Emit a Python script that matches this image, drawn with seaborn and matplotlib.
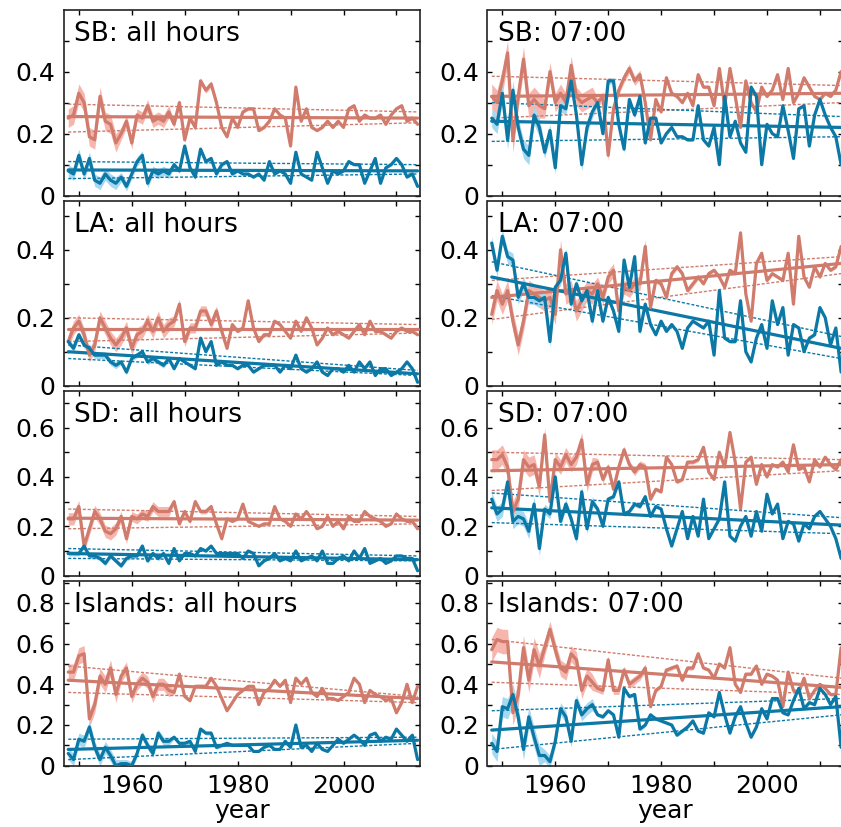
import numpy as np
import pandas as pd
import matplotlib
matplotlib.use("Agg")
import matplotlib.pyplot as plt
import seaborn as sns
from matplotlib.ticker import FixedLocator, NullFormatter

# years of the record
years = np.arange(1948, 2015)

# ---- SB ----
sb_all_red = [0.25, 0.26, 0.33, 0.30, 0.19, 0.18, 0.32, 0.24, 0.23, 0.17, 0.20, 0.24,
              0.17, 0.26, 0.25, 0.29, 0.24, 0.25, 0.24, 0.27, 0.23, 0.30,
              0.18, 0.25, 0.22, 0.37, 0.34, 0.36, 0.30, 0.22, 0.19, 0.25,
              0.22, 0.27, 0.28, 0.28, 0.21, 0.22, 0.24, 0.28, 0.26, 0.25,
              0.16, 0.35, 0.24, 0.28, 0.22, 0.21, 0.22, 0.24, 0.22, 0.24,
              0.22, 0.28, 0.29, 0.24, 0.26, 0.25, 0.25, 0.26, 0.23, 0.26,
              0.28, 0.29, 0.24, 0.25, 0.23]
sb_all_blue = [0.08, 0.07, 0.13, 0.07, 0.12, 0.05, 0.04, 0.07, 0.05, 0.04, 0.06, 0.03,
               0.07, 0.11, 0.13, 0.04, 0.08, 0.07, 0.08, 0.07, 0.10, 0.08,
               0.16, 0.09, 0.06, 0.15, 0.11, 0.12, 0.07, 0.10, 0.11, 0.07,
               0.08, 0.07, 0.07, 0.06, 0.07, 0.05, 0.11, 0.07, 0.08, 0.07,
               0.04, 0.14, 0.07, 0.06, 0.05, 0.14, 0.09, 0.04, 0.08, 0.07,
               0.08, 0.11, 0.10, 0.10, 0.04, 0.08, 0.12, 0.04, 0.09, 0.10,
               0.12, 0.10, 0.06, 0.07, 0.03]
sb_07_red = [0.32, 0.30, 0.37, 0.46, 0.18, 0.32, 0.44, 0.29, 0.31, 0.29, 0.28, 0.40,
             0.30, 0.33, 0.30, 0.42, 0.32, 0.30, 0.31, 0.32, 0.30, 0.32,
             0.13, 0.28, 0.34, 0.38, 0.41, 0.37, 0.39, 0.30, 0.18, 0.31,
             0.27, 0.38, 0.33, 0.32, 0.30, 0.33, 0.29, 0.39, 0.35, 0.35,
             0.29, 0.41, 0.29, 0.41, 0.32, 0.22, 0.37, 0.30, 0.27, 0.35,
             0.32, 0.34, 0.39, 0.31, 0.41, 0.30, 0.33, 0.38, 0.35, 0.32,
             0.31, 0.33, 0.32, 0.34, 0.40]
sb_07_blue = [0.25, 0.23, 0.33, 0.18, 0.34, 0.22, 0.15, 0.13, 0.26, 0.22, 0.14, 0.21,
              0.09, 0.29, 0.28, 0.37, 0.26, 0.10, 0.22, 0.27, 0.30, 0.20,
              0.37, 0.37, 0.23, 0.15, 0.31, 0.26, 0.32, 0.17, 0.25, 0.25,
              0.17, 0.20, 0.22, 0.19, 0.19, 0.18, 0.18, 0.29, 0.18, 0.16,
              0.22, 0.10, 0.32, 0.19, 0.24, 0.17, 0.14, 0.35, 0.32, 0.10,
              0.23, 0.20, 0.19, 0.29, 0.21, 0.12, 0.28, 0.29, 0.16, 0.26,
              0.31, 0.26, 0.22, 0.19, 0.10]

# ---- LA ----
la_all_red = [0.13, 0.17, 0.19, 0.15, 0.09, 0.12, 0.20, 0.17, 0.14, 0.12, 0.14, 0.17,
              0.11, 0.15, 0.16, 0.19, 0.16, 0.20, 0.16, 0.18, 0.19, 0.24,
              0.13, 0.17, 0.17, 0.22, 0.22, 0.18, 0.22, 0.16, 0.11, 0.18,
              0.16, 0.17, 0.25, 0.17, 0.13, 0.15, 0.15, 0.19, 0.18, 0.16,
              0.14, 0.19, 0.16, 0.20, 0.17, 0.12, 0.14, 0.17, 0.15, 0.16,
              0.15, 0.14, 0.16, 0.18, 0.15, 0.19, 0.16, 0.16, 0.15, 0.14,
              0.16, 0.17, 0.16, 0.16, 0.15]
la_all_blue = [0.13, 0.11, 0.15, 0.12, 0.11, 0.09, 0.09, 0.09, 0.07, 0.06, 0.07, 0.04,
               0.08, 0.09, 0.10, 0.07, 0.08, 0.07, 0.06, 0.08, 0.05, 0.08,
               0.07, 0.06, 0.05, 0.14, 0.10, 0.13, 0.06, 0.07, 0.06, 0.06,
               0.05, 0.06, 0.06, 0.04, 0.05, 0.06, 0.06, 0.06, 0.04, 0.06,
               0.05, 0.09, 0.05, 0.04, 0.05, 0.07, 0.04, 0.03, 0.05, 0.05,
               0.04, 0.06, 0.04, 0.07, 0.05, 0.07, 0.03, 0.05, 0.05, 0.03,
               0.04, 0.05, 0.07, 0.05, 0.01]
la_07_red = [0.21, 0.28, 0.24, 0.28, 0.19, 0.12, 0.19, 0.28, 0.27, 0.26, 0.25, 0.26,
             0.21, 0.40, 0.27, 0.28, 0.22, 0.25, 0.28, 0.27, 0.30, 0.26,
             0.32, 0.34, 0.22, 0.29, 0.28, 0.30, 0.30, 0.41, 0.23, 0.31,
             0.30, 0.26, 0.33, 0.35, 0.33, 0.28, 0.30, 0.32, 0.30, 0.33,
             0.34, 0.32, 0.29, 0.34, 0.33, 0.45, 0.27, 0.19, 0.36, 0.39,
             0.31, 0.33, 0.32, 0.31, 0.39, 0.24, 0.44, 0.32, 0.29, 0.35,
             0.32, 0.36, 0.34, 0.35, 0.41]
la_07_blue = [0.42, 0.34, 0.44, 0.38, 0.37, 0.26, 0.30, 0.26, 0.26, 0.25, 0.26, 0.13,
              0.29, 0.31, 0.39, 0.24, 0.30, 0.25, 0.28, 0.19, 0.28, 0.19,
              0.26, 0.22, 0.16, 0.37, 0.29, 0.38, 0.16, 0.24, 0.18, 0.15,
              0.19, 0.16, 0.18, 0.16, 0.11, 0.17, 0.19, 0.18, 0.17, 0.19,
              0.09, 0.28, 0.14, 0.13, 0.13, 0.25, 0.10, 0.07, 0.14, 0.18,
              0.11, 0.25, 0.18, 0.23, 0.09, 0.18, 0.17, 0.10, 0.14, 0.15,
              0.23, 0.20, 0.12, 0.17, 0.04]

# ---- SD ----
sd_all_red = [0.23, 0.23, 0.28, 0.12, 0.19, 0.26, 0.23, 0.18, 0.17, 0.19, 0.24, 0.15,
              0.24, 0.23, 0.25, 0.24, 0.28, 0.26, 0.26, 0.26, 0.30, 0.21,
              0.26, 0.22, 0.30, 0.26, 0.26, 0.28, 0.21, 0.15, 0.23, 0.22,
              0.23, 0.29, 0.22, 0.21, 0.20, 0.21, 0.21, 0.28, 0.23, 0.22,
              0.20, 0.25, 0.23, 0.26, 0.23, 0.19, 0.20, 0.24, 0.20, 0.22,
              0.19, 0.24, 0.22, 0.22, 0.26, 0.24, 0.23, 0.22, 0.20, 0.21,
              0.25, 0.23, 0.22, 0.22, 0.19]
sd_all_blue = [0.09, 0.09, 0.09, 0.12, 0.08, 0.08, 0.07, 0.05, 0.08, 0.06, 0.04, 0.07,
               0.08, 0.08, 0.12, 0.06, 0.09, 0.07, 0.09, 0.05, 0.11, 0.06,
               0.09, 0.09, 0.08, 0.11, 0.10, 0.12, 0.09, 0.09, 0.09, 0.09,
               0.09, 0.07, 0.10, 0.09, 0.04, 0.06, 0.07, 0.09, 0.06, 0.07,
               0.06, 0.10, 0.06, 0.07, 0.08, 0.06, 0.10, 0.05, 0.05, 0.07,
               0.08, 0.06, 0.10, 0.07, 0.11, 0.05, 0.06, 0.07, 0.05, 0.06,
               0.08, 0.08, 0.07, 0.07, 0.02]
sd_07_red = [0.47, 0.47, 0.49, 0.44, 0.26, 0.31, 0.47, 0.44, 0.45, 0.36, 0.57, 0.30,
             0.47, 0.44, 0.49, 0.45, 0.48, 0.55, 0.37, 0.45, 0.46, 0.39,
             0.44, 0.35, 0.44, 0.51, 0.45, 0.42, 0.45, 0.44, 0.31, 0.35,
             0.34, 0.48, 0.45, 0.38, 0.39, 0.46, 0.46, 0.47, 0.52, 0.42,
             0.39, 0.50, 0.44, 0.58, 0.46, 0.27, 0.46, 0.48, 0.37, 0.45,
             0.40, 0.45, 0.44, 0.46, 0.42, 0.53, 0.43, 0.44, 0.38, 0.47,
             0.44, 0.48, 0.45, 0.43, 0.47]
sd_07_blue = [0.31, 0.25, 0.27, 0.38, 0.22, 0.24, 0.23, 0.18, 0.29, 0.11, 0.27, 0.25,
              0.40, 0.22, 0.29, 0.23, 0.15, 0.34, 0.19, 0.30, 0.27, 0.20,
              0.31, 0.32, 0.38, 0.25, 0.26, 0.29, 0.28, 0.32, 0.24, 0.28,
              0.27, 0.19, 0.12, 0.19, 0.26, 0.15, 0.24, 0.16, 0.31, 0.15,
              0.19, 0.23, 0.38, 0.16, 0.14, 0.20, 0.24, 0.16, 0.26, 0.18,
              0.33, 0.25, 0.29, 0.15, 0.22, 0.21, 0.14, 0.21, 0.19, 0.24,
              0.26, 0.23, 0.20, 0.15, 0.07]

# ---- Islands ----
isl_all_red = [0.46, 0.46, 0.54, 0.55, 0.23, 0.30, 0.44, 0.40, 0.48, 0.35, 0.44, 0.48,
               0.34, 0.40, 0.43, 0.41, 0.34, 0.40, 0.40, 0.37, 0.36, 0.45,
               0.34, 0.32, 0.39, 0.39, 0.39, 0.43, 0.39, 0.33, 0.27, 0.31,
               0.35, 0.37, 0.39, 0.39, 0.30, 0.36, 0.38, 0.42, 0.39, 0.42,
               0.31, 0.43, 0.40, 0.43, 0.36, 0.34, 0.38, 0.33, 0.33, 0.32,
               0.34, 0.36, 0.43, 0.40, 0.31, 0.37, 0.35, 0.34, 0.32, 0.33,
               0.26, 0.31, 0.40, 0.31, 0.39]
isl_all_blue = [0.06, 0.03, 0.13, 0.12, 0.19, 0.09, 0.03, 0.09, 0.05, 0.00, 0.01, 0.01,
                0.00, 0.06, 0.15, 0.10, 0.06, 0.16, 0.12, 0.12, 0.14, 0.11,
                0.11, 0.12, 0.07, 0.18, 0.16, 0.16, 0.09, 0.10, 0.11, 0.10,
                0.10, 0.10, 0.10, 0.07, 0.07, 0.09, 0.10, 0.08, 0.08, 0.12,
                0.09, 0.20, 0.09, 0.10, 0.07, 0.11, 0.08, 0.07, 0.10, 0.13,
                0.11, 0.13, 0.15, 0.13, 0.10, 0.15, 0.16, 0.12, 0.14, 0.13,
                0.18, 0.15, 0.12, 0.15, 0.03]
isl_07_red = [0.57, 0.62, 0.61, 0.61, 0.26, 0.35, 0.58, 0.42, 0.57, 0.49, 0.58, 0.67,
              0.57, 0.48, 0.46, 0.55, 0.52, 0.37, 0.44, 0.41, 0.38, 0.37,
              0.52, 0.37, 0.37, 0.47, 0.40, 0.42, 0.44, 0.48, 0.29, 0.37,
              0.39, 0.47, 0.48, 0.49, 0.42, 0.48, 0.48, 0.55, 0.48, 0.47,
              0.43, 0.50, 0.48, 0.58, 0.40, 0.36, 0.45, 0.45, 0.49, 0.40,
              0.45, 0.44, 0.42, 0.29, 0.46, 0.37, 0.36, 0.43, 0.33, 0.37,
              0.40, 0.38, 0.35, 0.35, 0.58]
isl_07_blue = [0.11, 0.07, 0.29, 0.28, 0.35, 0.24, 0.08, 0.24, 0.14, 0.05, 0.05, 0.02,
               0.12, 0.28, 0.24, 0.12, 0.32, 0.25, 0.28, 0.30, 0.25, 0.24,
               0.27, 0.25, 0.14, 0.38, 0.34, 0.35, 0.18, 0.20, 0.25, 0.23,
               0.22, 0.21, 0.20, 0.15, 0.17, 0.19, 0.22, 0.17, 0.16, 0.26,
               0.24, 0.36, 0.25, 0.16, 0.24, 0.29, 0.21, 0.14, 0.19, 0.28,
               0.23, 0.33, 0.33, 0.26, 0.25, 0.32, 0.38, 0.28, 0.31, 0.30,
               0.38, 0.35, 0.30, 0.34, 0.09]

# linear trend (first year, last year) and the two dotted bounds
sb_all_red_fit, sb_all_red_hi, sb_all_red_lo = [0.255, 0.25], [0.295, 0.27], [0.205, 0.235]
sb_all_blue_fit, sb_all_blue_hi, sb_all_blue_lo = [0.083, 0.08], [0.11, 0.10], [0.055, 0.07]
sb_07_red_fit, sb_07_red_hi, sb_07_red_lo = [0.32, 0.33], [0.385, 0.355], [0.25, 0.30]
sb_07_blue_fit, sb_07_blue_hi, sb_07_blue_lo = [0.24, 0.22], [0.30, 0.255], [0.175, 0.19]
la_all_red_fit, la_all_red_hi, la_all_red_lo = [0.166, 0.166], [0.20, 0.18], [0.13, 0.155]
la_all_blue_fit, la_all_blue_hi, la_all_blue_lo = [0.10, 0.035], [0.12, 0.045], [0.08, 0.03]
la_07_red_fit, la_07_red_hi, la_07_red_lo = [0.26, 0.36], [0.31, 0.38], [0.195, 0.33]
la_07_blue_fit, la_07_blue_hi, la_07_blue_lo = [0.32, 0.11], [0.365, 0.145], [0.265, 0.08]
sd_all_red_fit, sd_all_red_hi, sd_all_red_lo = [0.233, 0.225], [0.27, 0.24], [0.19, 0.21]
sd_all_blue_fit, sd_all_blue_hi, sd_all_blue_lo = [0.09, 0.065], [0.11, 0.08], [0.07, 0.06]
sd_07_red_fit, sd_07_red_hi, sd_07_red_lo = [0.425, 0.45], [0.50, 0.47], [0.345, 0.425]
sd_07_blue_fit, sd_07_blue_hi, sd_07_blue_lo = [0.275, 0.205], [0.335, 0.235], [0.215, 0.17]
isl_all_red_fit, isl_all_red_hi, isl_all_red_lo = [0.42, 0.33], [0.49, 0.34], [0.36, 0.31]
isl_all_blue_fit, isl_all_blue_hi, isl_all_blue_lo = [0.08, 0.125], [0.13, 0.14], [0.03, 0.11]
isl_07_red_fit, isl_07_red_hi, isl_07_red_lo = [0.51, 0.385], [0.62, 0.43], [0.41, 0.35]
isl_07_blue_fit, isl_07_blue_hi, isl_07_blue_lo = [0.175, 0.29], [0.27, 0.33], [0.08, 0.25]

# half width of the shaded band, per block of years (1948-57, 58-67, ..., 2008-14)
band_blocks = [10, 10, 10, 10, 10, 10, 7]
sb_all_red_band = [0.03, 0.02, 0.01, 0.005, 0.004, 0.004, 0.004]
sb_all_blue_band = [0.02, 0.015, 0.008, 0.005, 0.004, 0.004, 0.004]
sb_07_red_band = [0.04, 0.03, 0.015, 0.006, 0.005, 0.005, 0.005]
sb_07_blue_band = [0.03, 0.02, 0.01, 0.005, 0.005, 0.005, 0.005]
la_all_red_band = [0.02, 0.02, 0.015, 0.005, 0.004, 0.004, 0.004]
la_all_blue_band = [0.01, 0.008, 0.005, 0.004, 0.004, 0.004, 0.004]
la_07_red_band = [0.03, 0.03, 0.02, 0.008, 0.005, 0.005, 0.005]
la_07_blue_band = [0.02, 0.015, 0.01, 0.005, 0.005, 0.005, 0.005]
sd_all_red_band = [0.025, 0.02, 0.01, 0.005, 0.004, 0.004, 0.004]
sd_all_blue_band = [0.01, 0.01, 0.005, 0.004, 0.004, 0.004, 0.004]
sd_07_red_band = [0.04, 0.03, 0.015, 0.008, 0.005, 0.005, 0.005]
sd_07_blue_band = [0.03, 0.02, 0.01, 0.005, 0.005, 0.005, 0.005]
isl_all_red_band = [0.04, 0.03, 0.01, 0.005, 0.005, 0.005, 0.005]
isl_all_blue_band = [0.03, 0.02, 0.01, 0.005, 0.005, 0.005, 0.005]
isl_07_red_band = [0.06, 0.04, 0.02, 0.01, 0.008, 0.008, 0.008]
isl_07_blue_band = [0.05, 0.03, 0.01, 0.008, 0.008, 0.008, 0.008]

titles = ["SB: all hours", "SB: 07:00", "LA: all hours", "LA: 07:00",
          "SD: all hours", "SD: 07:00", "Islands: all hours", "Islands: 07:00"]
row_ymax = [0.6, 0.545, 0.75, 0.91]
row_ylabels = [[0, 0.2, 0.4], [0, 0.2, 0.4], [0, 0.2, 0.4, 0.6], [0, 0.2, 0.4, 0.6, 0.8]]
xlabeled = [1960, 1980, 2000]
xminor = [1950, 1970, 1990, 2010]

panels = [
    (sb_all_red, sb_all_red_band, sb_all_red_fit, sb_all_red_hi, sb_all_red_lo,
     sb_all_blue, sb_all_blue_band, sb_all_blue_fit, sb_all_blue_hi, sb_all_blue_lo),
    (sb_07_red, sb_07_red_band, sb_07_red_fit, sb_07_red_hi, sb_07_red_lo,
     sb_07_blue, sb_07_blue_band, sb_07_blue_fit, sb_07_blue_hi, sb_07_blue_lo),
    (la_all_red, la_all_red_band, la_all_red_fit, la_all_red_hi, la_all_red_lo,
     la_all_blue, la_all_blue_band, la_all_blue_fit, la_all_blue_hi, la_all_blue_lo),
    (la_07_red, la_07_red_band, la_07_red_fit, la_07_red_hi, la_07_red_lo,
     la_07_blue, la_07_blue_band, la_07_blue_fit, la_07_blue_hi, la_07_blue_lo),
    (sd_all_red, sd_all_red_band, sd_all_red_fit, sd_all_red_hi, sd_all_red_lo,
     sd_all_blue, sd_all_blue_band, sd_all_blue_fit, sd_all_blue_hi, sd_all_blue_lo),
    (sd_07_red, sd_07_red_band, sd_07_red_fit, sd_07_red_hi, sd_07_red_lo,
     sd_07_blue, sd_07_blue_band, sd_07_blue_fit, sd_07_blue_hi, sd_07_blue_lo),
    (isl_all_red, isl_all_red_band, isl_all_red_fit, isl_all_red_hi, isl_all_red_lo,
     isl_all_blue, isl_all_blue_band, isl_all_blue_fit, isl_all_blue_hi, isl_all_blue_lo),
    (isl_07_red, isl_07_red_band, isl_07_red_fit, isl_07_red_hi, isl_07_red_lo,
     isl_07_blue, isl_07_blue_band, isl_07_blue_fit, isl_07_blue_hi, isl_07_blue_lo),
]

sns.set_theme(style="ticks")
plt.rcParams['font.family'] = ['DejaVu Sans']
plt.rcParams['text.color'] = 'black'
plt.rcParams['axes.labelcolor'] = 'black'

RED, RED_BAND = "#D07B6B", "#F6B6AE"
BLUE, BLUE_BAND = "#0B78A6", "#A6D8F0"

fig = plt.figure(figsize=(8.41, 8.27), dpi=100)
W, H = 841, 827
col_left = [64, 487.5]
row_top = [9.5, 200.6, 390.5, 580.5]
row_bot = [195.7, 385.7, 575.7, 765.7]
ends = [years[0], years[-1]]


def draw_series(ax, vals, band, fit, hi, lo, color, band_color):
    vals = np.array(vals)
    hw = np.repeat(band, band_blocks)
    ax.fill_between(years, vals - hw, vals + hw, color=band_color, lw=0, zorder=1)
    for b in (hi, lo):
        sns.lineplot(x=ends, y=b, ax=ax, color=color, lw=1.0,
                     linestyle=(0, (2.2, 1.3)), zorder=2)
    sns.lineplot(x=ends, y=fit, ax=ax, color=color, lw=2.3, zorder=3)
    df = pd.DataFrame({"year": years, "value": vals})
    sns.lineplot(data=df, x="year", y="value", ax=ax, color=color, lw=2.3, zorder=4)


for i, p in enumerate(panels):
    r, c = divmod(i, 2)
    ax = fig.add_axes([col_left[c] / W, 1 - row_bot[r] / H,
                       356 / W, (row_bot[r] - row_top[r]) / H])
    draw_series(ax, *p[:5], RED, RED_BAND)
    draw_series(ax, *p[5:], BLUE, BLUE_BAND)

    ax.set_xlim(1947.2, 2014.45)
    ax.set_ylim(0, row_ymax[r])
    ax.xaxis.set_major_locator(FixedLocator(xlabeled))
    ax.xaxis.set_minor_locator(FixedLocator(xminor))
    ax.yaxis.set_major_locator(FixedLocator(row_ylabels[r]))
    ax.yaxis.set_minor_locator(FixedLocator(np.round(np.arange(0.1, row_ymax[r], 0.2), 2)))
    ax.set_yticklabels(["0" if v == 0 else f"{v:.1f}" for v in row_ylabels[r]])
    ax.yaxis.set_minor_formatter(NullFormatter())
    ax.tick_params(which="both", direction="in", length=3.5, width=1.0,
                   top=True, right=True, labelsize=18, pad=6, colors="black",
                   labelcolor="black")
    if r < 3:
        ax.set_xticklabels([])
        ax.set_xlabel("")
    else:
        ax.set_xlabel("year", fontsize=18, labelpad=1, color="black")
    ax.set_ylabel("")
    for s in ax.spines.values():
        s.set_linewidth(1.2)
        s.set_color("#222222")
    ax.annotate(titles[i], xy=(0, 1), xycoords="axes fraction",
                xytext=(7.5, -8.5), textcoords="offset points",
                ha="left", va="top", fontsize=19, color="black")

fig.savefig("out.png", dpi=100)
